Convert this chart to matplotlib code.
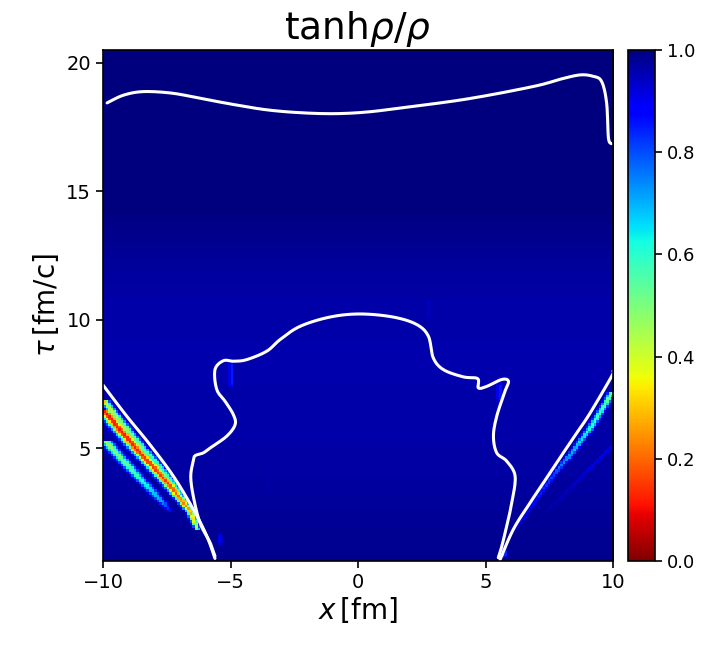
import numpy as np
import matplotlib
matplotlib.use("Agg")
import matplotlib.pyplot as plt

# ---------------- data ----------------
x_range = [-10.0, 10.0]
tau_range = [0.6, 20.5]

# background level vs tau
bg_tau = [0.6, 2.0, 3.5, 5.0, 8.0, 10.5, 12.5, 14.5, 20.5]
bg_val = [0.985, 0.980, 0.970, 0.965, 0.960, 0.962, 0.978, 1.0, 1.0]

# diagonal stripes: centre line (x, tau), depth (1 - value) along it, half-width in x
stripeA_x = [-10.0, -9.92, -8.81, -7.50, -6.59, -6.33]
stripeA_tau = [6.40, 6.32, 5.02, 3.60, 2.45, 1.76]
stripeA_depth = [0.88, 0.90, 0.88, 0.85, 0.75, 0.55]
stripeA_w = [0.28, 0.28, 0.27, 0.24, 0.16, 0.08]

stripeA2_x = [-10.0, -9.92, -8.81, -7.50, -6.59]
stripeA2_tau = [6.80, 6.70, 5.35, 3.90, 2.70]
stripeA2_depth = [0.70, 0.60, 0.50, 0.40, 0.25]
stripeA2_w = [0.18, 0.18, 0.18, 0.15, 0.10]

stripeB_x = [-10.0, -9.92, -8.81, -7.76, -7.37]
stripeB_tau = [5.25, 5.20, 4.00, 2.90, 2.45]
stripeB_depth = [0.55, 0.55, 0.45, 0.30, 0.10]
stripeB_w = [0.24, 0.24, 0.22, 0.18, 0.12]

stripeC_x = [10.0, 9.95, 9.10, 8.31, 7.66, 6.75, 6.09]
stripeC_tau = [7.15, 7.08, 5.72, 4.68, 3.90, 2.61, 1.70]
stripeC_depth = [0.55, 0.50, 0.40, 0.30, 0.20, 0.12, 0.08]
stripeC_w = [0.15, 0.15, 0.15, 0.14, 0.13, 0.12, 0.10]

stripeD_x = [10.0, 8.71, 7.40]
stripeD_tau = [5.07, 3.77, 2.48]
stripeD_depth = [0.12, 0.08, 0.04]
stripeD_w = [0.12, 0.12, 0.12]

# faint vertical streaks: x, tau_low, tau_high, depth
streak_x = [-5.00, 5.55, 2.80, -5.45, 5.70, -3.60]
streak_t0 = [7.2, 6.6, 9.8, 1.0, 0.6, 3.0]
streak_t1 = [8.5, 7.7, 11.0, 1.8, 1.1, 4.5]
streak_depth = [0.16, 0.16, 0.07, 0.10, 0.45, 0.04]

# white contour lines (x, tau)
top_x = [-9.84, -9.2, -8.42, -7.3, -6.20, -4.9, -3.58, -2.3, -0.97, 0.3, 1.65, 4.26, 6.88, 8.00, 8.71, 9.20, 9.55, 9.75, 9.82, 9.95]
top_tau = [18.44, 18.74, 18.88, 18.82, 18.62, 18.38, 18.17, 18.06, 18.02, 18.08, 18.24, 18.59, 19.08, 19.38, 19.53, 19.48, 19.28, 18.43, 17.07, 16.85]

mid_x = [-5.61, -5.80, -6.20, -6.46, -6.56, -6.46, -6.39, -6.07, -5.80, -5.15, -4.82, -4.89, -5.20,
         -5.54, -5.61, -5.28, -4.89, -4.37, -3.58, -3.06, -2.27, -1.10, 0.08, 1.38, 2.30,
         2.76, 2.95, 3.35, 4.13, 4.69, 4.72, 5.05, 5.64, 5.90, 5.76, 5.44, 5.31, 5.44,
         5.83, 6.16, 6.03, 5.83, 5.64, 5.50]
mid_tau = [0.79, 1.31, 2.09, 3.12, 3.90, 4.50, 4.70, 4.81, 5.00, 5.46, 5.91, 6.30, 6.80,
           7.28, 8.05, 8.40, 8.38, 8.44, 8.77, 9.22, 9.74, 10.10, 10.22, 10.10, 9.81,
           9.35, 8.51, 8.05, 7.77, 7.70, 7.34, 7.40, 7.67, 7.60, 7.20, 6.24, 5.46, 4.81,
           4.49, 3.90, 2.87, 1.96, 1.18, 0.73]

left_x = [-10.0, -9.07, -8.16, -7.24, -6.46, -5.93, -5.61]
left_tau = [7.45, 6.24, 5.13, 3.90, 2.61, 1.57, 0.70]

right_x = [5.57, 6.09, 6.75, 7.40, 8.05, 8.58, 9.10, 9.95, 10.0]
right_tau = [0.65, 1.83, 2.87, 3.84, 4.81, 5.59, 6.36, 7.80, 8.00]

# ---------------- build the field ----------------
nx, nt = 200, 200
xs = np.linspace(x_range[0], x_range[1], nx)
ts = np.linspace(tau_range[0], tau_range[1], nt)
X, T = np.meshgrid(xs, ts)
field = np.interp(T, bg_tau, bg_val)


def add_stripe(sx, st, sd, sw):
    global field
    order = np.argsort(st)
    st_a = np.array(st)[order]
    sx_a = np.array(sx)[order]
    sd_a = np.array(sd)[order]
    sw_a = np.array(sw)[order]
    xc = np.interp(ts, st_a, sx_a)
    dc = np.interp(ts, st_a, sd_a)
    wc = np.interp(ts, st_a, sw_a)
    inside = (ts >= st_a.min()) & (ts <= st_a.max())
    dc = np.where(inside, dc, 0.0)
    d = dc[:, None] * np.exp(-((X - xc[:, None]) / wc[:, None]) ** 2)
    field = np.minimum(field, 1 - d)


add_stripe(stripeA2_x, stripeA2_tau, stripeA2_depth, stripeA2_w)
add_stripe(stripeA_x, stripeA_tau, stripeA_depth, stripeA_w)
add_stripe(stripeB_x, stripeB_tau, stripeB_depth, stripeB_w)
add_stripe(stripeC_x, stripeC_tau, stripeC_depth, stripeC_w)
add_stripe(stripeD_x, stripeD_tau, stripeD_depth, stripeD_w)

for sx, t0, t1, dep in zip(streak_x, streak_t0, streak_t1, streak_depth):
    tt = np.clip(np.minimum(T - t0, t1 - T) / 0.3, 0, 1)
    d = dep * np.exp(-((X - sx) / 0.1) ** 2) * tt
    field = np.minimum(field, 1 - d)


def smooth(px, pt, n=12):
    """Catmull-Rom curve through the given points (for drawing only)."""
    P = np.column_stack([px, pt])
    P = np.vstack([P[0], P, P[-1]])
    out = []
    for i in range(1, len(P) - 2):
        p0, p1, p2, p3 = P[i - 1], P[i], P[i + 1], P[i + 2]
        for s in np.linspace(0, 1, n, endpoint=False):
            out.append(0.5 * ((2 * p1) + (-p0 + p2) * s + (2 * p0 - 5 * p1 + 4 * p2 - p3) * s ** 2
                              + (-p0 + 3 * p1 - 3 * p2 + p3) * s ** 3))
    out.append(P[-2])
    out = np.array(out)
    return out[:, 0], out[:, 1]


# ---------------- plot ----------------
fig = plt.figure(figsize=(7.12, 6.46), dpi=100)
ax = fig.add_axes([0.1447, 0.1316, 0.7163, 0.791])
cax = fig.add_axes([0.882, 0.1316, 0.0379, 0.791])

im = ax.imshow(field, origin="lower", aspect="auto", cmap="jet_r", vmin=0, vmax=1,
               extent=[x_range[0], x_range[1], tau_range[0], tau_range[1]],
               interpolation="nearest")

for lx, lt in [(top_x, top_tau), (mid_x, mid_tau), (left_x, left_tau), (right_x, right_tau)]:
    sx, st = smooth(lx, lt)
    ax.plot(sx, st, color="white", lw=2.2, solid_capstyle="round", solid_joinstyle="round")

ax.set_xlim(x_range)
ax.set_ylim(tau_range)
ax.set_xticks([-10, -5, 0, 5, 10])
ax.set_yticks([5, 10, 15, 20])
ax.tick_params(labelsize=14, length=5, width=1.2)
for s in ax.spines.values():
    s.set_linewidth(1.2)
ax.set_xlabel(r"$x\,[\rm fm]$", fontsize=20, labelpad=2)
ax.set_ylabel(r"$\tau\,[\rm fm/c]$", fontsize=20, labelpad=4)
ax.set_title(r"$\mathrm{tanh}\rho/\rho$", fontsize=27, pad=8)

cb = fig.colorbar(im, cax=cax)
cb.set_ticks([0, 0.2, 0.4, 0.6, 0.8, 1.0])
cb.ax.tick_params(labelsize=13, length=5, width=1.2)
cb.outline.set_linewidth(1.2)

fig.savefig("out.png", dpi=100)
